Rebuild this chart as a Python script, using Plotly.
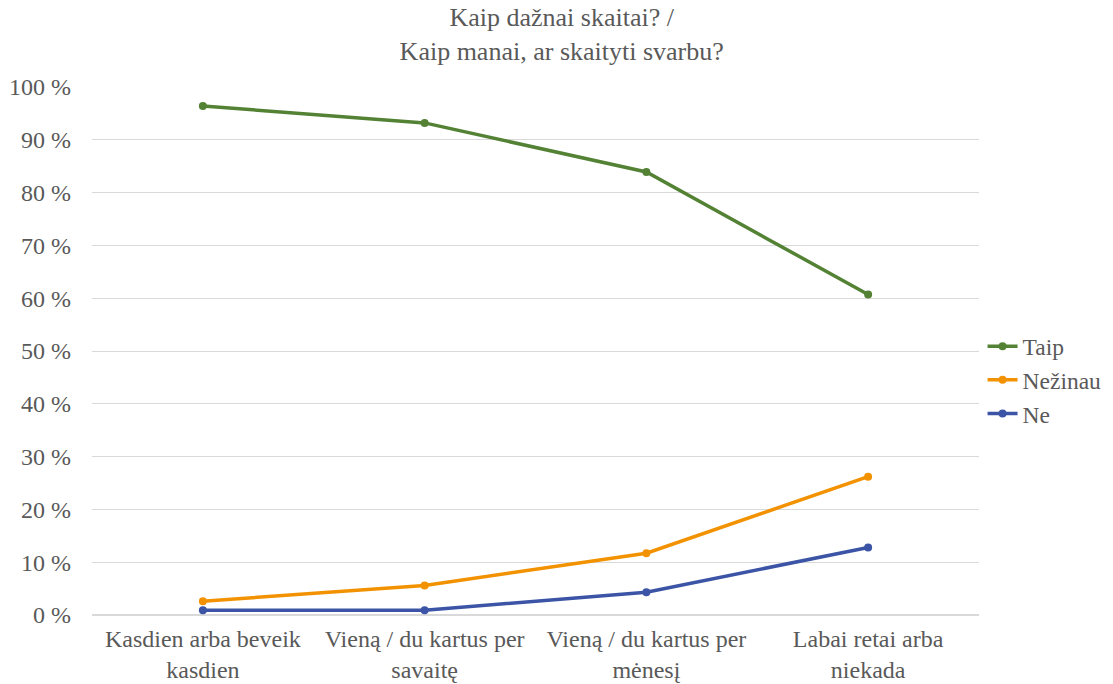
import plotly.graph_objects as go

# categories and series values (percent)
categories = ["Kasdien arba beveik<br>kasdien", "Vieną / du kartus per<br>savaitę",
              "Vieną / du kartus per<br>mėnesį", "Labai retai arba<br>niekada"]
taip = [96.4, 93.2, 83.9, 60.7]
nezinau = [2.6, 5.6, 11.7, 26.2]
ne = [0.9, 0.9, 4.3, 12.8]
ytick_vals = list(range(0, 101, 10))
ytick_text = ["{} %".format(v) for v in ytick_vals]

series = [("Taip", taip, "#548235"), ("Nežinau", nezinau, "#F39200"), ("Ne", ne, "#3B54A5")]

serif = "Liberation Serif, Times New Roman, serif"

fig = go.Figure()
for name, vals, color in series:
	fig.add_trace(go.Scatter(
		x=categories, y=vals, name=name, mode="lines+markers",
		legendgroup=name,
		line=dict(color=color, width=3.5),
		marker=dict(color=color, size=8)
	))

# page body has an 8px margin, so margins are shifted to compensate
fig.update_layout(
	width=1113, height=684,
	paper_bgcolor="white", plot_bgcolor="white",
	font=dict(family=serif, color="#595959", size=24),
	title=dict(text="Kaip dažnai skaitai? /<br>Kaip manai, ar skaityti svarbu?",
		x=0.4975, xanchor="center", y=0.974, yanchor="top",
		font=dict(family=serif, size=26, color="#595959")),
	margin=dict(l=84, r=142, t=79, b=77, autoexpand=False),
	legend=dict(x=1.004, y=0.445, xanchor="left", yanchor="middle",
		font=dict(family=serif, size=23.5, color="#595959"), tracegroupgap=0),
	showlegend=True,
)
fig.update_xaxes(range=[-0.5, 3.5], showgrid=False, showline=False, ticks="",
	ticklabelstandoff=7, tickfont=dict(family=serif, size=24))
fig.update_yaxes(range=[0, 100], tickvals=ytick_vals, ticktext=ytick_text,
	showgrid=True, gridcolor="#d9d9d9", gridwidth=1, zeroline=True, zerolinecolor="#d9d9d9",
	ticks="", ticklabelstandoff=20, tickfont=dict(family=serif, size=24))

fig.write_html("out.html")
